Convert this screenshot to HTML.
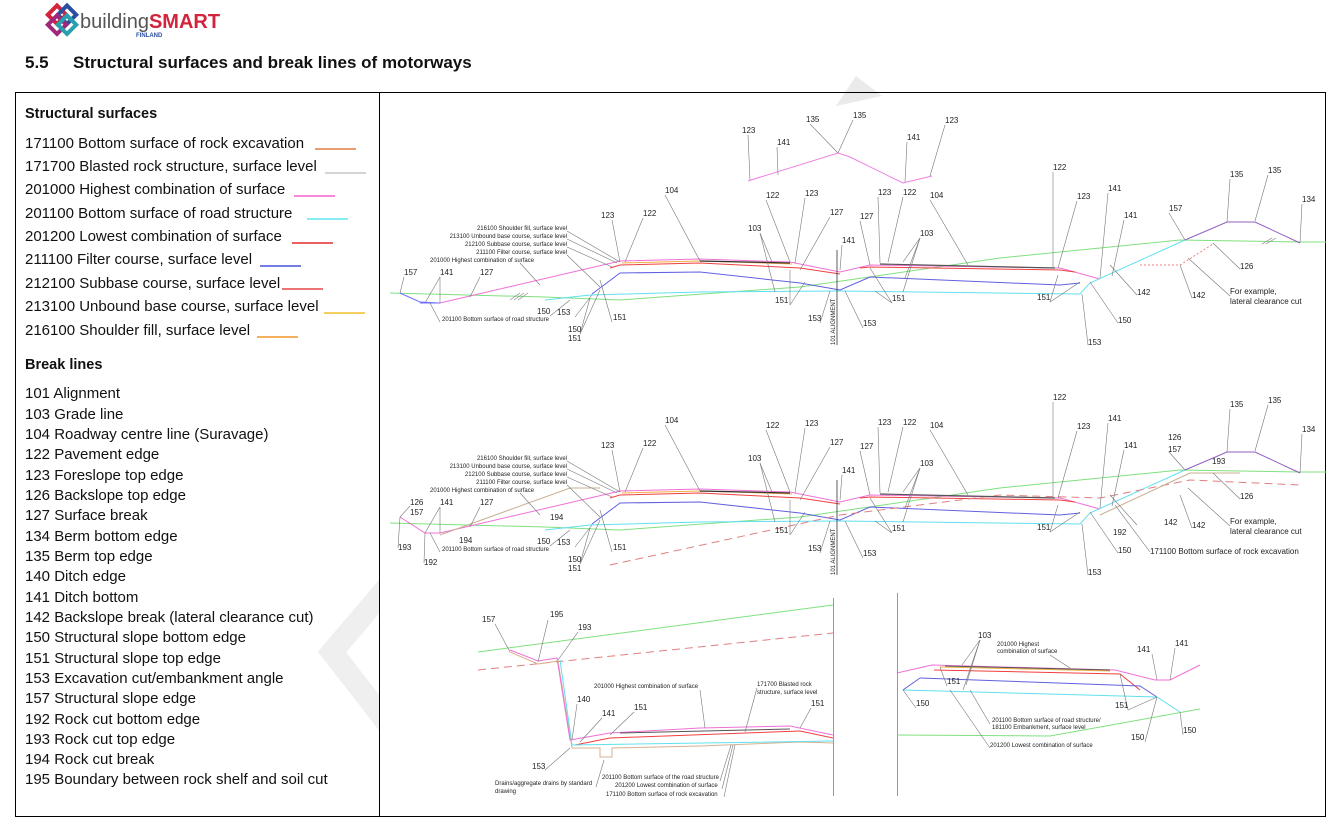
<!DOCTYPE html>
<html><head><meta charset="utf-8"><style>
html,body{margin:0;padding:0;background:#fff}
svg{display:block}
.lg{font-family:"Liberation Sans",sans-serif;font-size:15px;fill:#111}
.hd{font-family:"Liberation Sans",sans-serif;font-size:14.5px;font-weight:bold;fill:#111}
.n{font-family:"Liberation Sans",sans-serif;font-size:8px;fill:#222}
.s{font-family:"Liberation Sans",sans-serif;font-size:6px;fill:#222}
.ld{stroke:#777;stroke-width:.6;fill:none}
.c{fill:none;stroke-width:1}
</style></head><body>
<svg width="1338" height="823" viewBox="0 0 1338 823" xmlns="http://www.w3.org/2000/svg">
<!-- logo -->
<g transform="translate(47,6)">
<rect x="4" y="2" width="13" height="13" transform="rotate(45 10 8)" fill="none" stroke="#d2243c" stroke-width="4"/>
<rect x="14" y="2" width="13" height="13" transform="rotate(45 20 8)" fill="none" stroke="#2b4fa0" stroke-width="4"/>
<rect x="4" y="12" width="13" height="13" transform="rotate(45 10 18)" fill="none" stroke="#a0287a" stroke-width="4"/>
<rect x="14" y="12" width="13" height="13" transform="rotate(45 20 18)" fill="none" stroke="#2a9fb0" stroke-width="4"/>
</g>
<text x="80" y="28" font-family="Liberation Sans,sans-serif" font-size="20" fill="#555">building<tspan fill="#d2243c" font-weight="bold">SMART</tspan></text>
<text x="136" y="37" font-family="Liberation Sans,sans-serif" font-size="6" font-weight="bold" fill="#2b4fa0">FINLAND</text>
<text x="25" y="68" font-family="Liberation Sans,sans-serif" font-size="17" font-weight="bold" fill="#111">5.5<tspan x="73">Structural surfaces and break lines of motorways</tspan></text>

<!-- watermark -->
<polyline points="402,570 332,652 402,742" fill="none" stroke="#efefef" stroke-width="22"/>
<polygon points="440,797 476,797 458,815" fill="#e8e8e8"/>

<!-- frame -->
<rect x="380" y="93" width="946" height="724" fill="#fff"/>
<polygon points="836,106 856,76 882,96" fill="#eaeaea"/>
<rect x="15.5" y="92.5" width="1310" height="724" fill="none" stroke="#000" stroke-width="1"/>
<line x1="379.5" y1="92" x2="379.5" y2="817" stroke="#000"/>

<!-- legend -->
<text class="hd" x="25" y="118">Structural surfaces</text>
<g class="lg">
<text x="25" y="148">171100 Bottom surface of rock excavation</text>
<text x="25" y="171">171700 Blasted rock structure, surface level</text>
<text x="25" y="194">201000 Highest combination of surface</text>
<text x="25" y="218">201100 Bottom surface of road structure</text>
<text x="25" y="241">201200 Lowest combination of surface</text>
<text x="25" y="264">211100 Filter course, surface level</text>
<text x="25" y="288">212100 Subbase course, surface level</text>
<text x="25" y="311">213100 Unbound base course, surface level</text>
<text x="25" y="335">216100 Shoulder fill, surface level</text>
</g>
<g stroke-width="1.2">
<line x1="315" y1="149" x2="356" y2="149" stroke="#d8641e"/>
<line x1="325" y1="173" x2="366" y2="173" stroke="#bbb"/>
<line x1="294" y1="196" x2="335" y2="196" stroke="#f040c8"/>
<line x1="307" y1="219" x2="348" y2="219" stroke="#40e0f0"/>
<line x1="292" y1="243" x2="333" y2="243" stroke="#d00"/>
<line x1="260" y1="266" x2="301" y2="266" stroke="#2030d0"/>
<line x1="282" y1="289" x2="323" y2="289" stroke="#e02020"/>
<line x1="324" y1="313" x2="365" y2="313" stroke="#f0b000"/>
<line x1="257" y1="337" x2="298" y2="337" stroke="#f08000"/>
</g>
<text class="hd" x="25" y="369">Break lines</text>
<g class="lg">
<text x="25" y="398">101 Alignment</text>
<text x="25" y="419">103 Grade line</text>
<text x="25" y="439">104 Roadway centre line (Suravage)</text>
<text x="25" y="459">122 Pavement edge</text>
<text x="25" y="480">123 Foreslope top edge</text>
<text x="25" y="500">126 Backslope top edge</text>
<text x="25" y="520">127 Surface break</text>
<text x="25" y="541">134 Berm bottom edge</text>
<text x="25" y="561">135 Berm top edge</text>
<text x="25" y="581">140 Ditch edge</text>
<text x="25" y="602">141 Ditch bottom</text>
<text x="25" y="622">142 Backslope break (lateral clearance cut)</text>
<text x="25" y="642">150 Structural slope bottom edge</text>
<text x="25" y="663">151 Structural slope top edge</text>
<text x="25" y="683">153 Excavation cut/embankment angle</text>
<text x="25" y="703">157 Structural slope edge</text>
<text x="25" y="724">192 Rock cut bottom edge</text>
<text x="25" y="744">193 Rock cut top edge</text>
<text x="25" y="764">194 Rock cut break</text>
<text x="25" y="784">195 Boundary between rock shelf and soil cut</text>
</g>

<!-- ============ TOP SECTION ============ -->
<g id="top">
<polyline class="c" stroke="#f080e0" points="748,181 838,153 850,157 903,183 932,176"/>
<polyline class="c" stroke="#80e080" points="390,293 545,297 620,300 800,287 1000,258 1180,240 1300,242 1326,242"/>
<polyline class="c" stroke="#f070d8" points="420,303 440,303 620,261 700,259 790,262 840,272 870,265 1060,268 1100,279"/>
<polyline class="c" stroke="#7070ff" points="420,303 440,303 420,302 400,293"/>
<polyline class="c" stroke="#f0b040" points="622,263 700,261 792,264"/>
<polyline class="c" stroke="#f04040" points="610,268 620,265 700,263 800,268 840,274"/>
<polyline class="c" stroke="#f04040" points="860,268 870,267 1060,270 1075,272"/>
<polyline class="c" stroke="#6060e0" points="592,294 620,273 700,272 800,283 840,290 870,277 1060,285 1080,283"/>
<polyline class="c" stroke="#60e0f0" points="545,300 590,295 700,292 840,291 1080,294 1090,283 1185,240"/>
<polyline class="c" stroke="#9060c0" points="1185,240 1227,222 1255,222 1300,243"/>
<polyline class="c" stroke="#f08080" stroke-dasharray="2,2" points="1140,265 1180,265 1213,244"/>
<line x1="700" y1="261" x2="790" y2="263" stroke="#333" stroke-width="1.2"/>
<line x1="880" y1="264" x2="1055" y2="268" stroke="#555" stroke-width="1.2"/>
<g stroke="#888" stroke-width=".7"><line x1="510" y1="300" x2="520" y2="293"/><line x1="514" y1="300" x2="524" y2="293"/><line x1="518" y1="300" x2="528" y2="293"/><line x1="1262" y1="244" x2="1272" y2="238"/><line x1="1266" y1="244" x2="1276" y2="238"/></g>
<line x1="837" y1="250" x2="837" y2="345" stroke="#333" stroke-width=".8"/>
<text class="s" transform="translate(835,345) rotate(-90)">101 ALIGNMENT</text>
<g class="ld">
<polyline points="748,135 750,180"/><polyline points="810,124 838,153"/><polyline points="853,120 838,153"/>
<polyline points="777,147 778,175"/><polyline points="907,142 905,182"/><polyline points="945,125 930,176"/>
<polyline points="665,195 700,261"/><polyline points="612,220 620,262"/><polyline points="643,218 625,262"/>
<polyline points="766,200 790,262"/><polyline points="805,198 795,263"/><polyline points="760,233 772,262"/><polyline points="760,233 775,292"/>
<polyline points="830,217 800,270"/><polyline points="842,245 840,270"/><polyline points="860,221 870,265"/>
<polyline points="878,197 880,263"/><polyline points="903,197 888,262"/><polyline points="930,200 968,265"/>
<polyline points="920,238 903,262"/><polyline points="920,238 905,278"/><polyline points="920,238 903,292"/>
<polyline points="1053,172 1053,267"/><polyline points="1077,201 1058,268"/>
<polyline points="1108,193 1100,278"/><polyline points="1124,220 1112,276"/>
<polyline points="1169,213 1185,240"/><polyline points="1230,179 1227,222"/><polyline points="1268,175 1255,221"/><polyline points="1302,204 1300,243"/>
<polyline points="1240,269 1213,243"/><polyline points="1137,295 1110,265"/><polyline points="1192,298 1180,265"/><polyline points="1230,296 1188,258"/>
<polyline points="1118,323 1090,282"/><polyline points="1088,345 1082,294"/>
<polyline points="1050,302 1058,275"/><polyline points="1050,302 1080,282"/>
<polyline points="892,303 870,268"/><polyline points="892,303 875,291"/><polyline points="863,328 845,291"/>
<polyline points="790,305 790,270"/><polyline points="790,305 805,282"/><polyline points="820,323 830,291"/>
<polyline points="612,322 600,280"/><polyline points="550,316 570,300"/><polyline points="575,317 592,295"/>
<polyline points="580,334 590,298"/><polyline points="580,334 600,290"/>
<polyline points="404,277 400,293"/><polyline points="440,277 425,303"/><polyline points="440,277 440,303"/><polyline points="480,277 470,297"/>
<polyline points="440,322 430,303"/>
<polyline points="567,231 620,262"/><polyline points="567,239 617,263"/><polyline points="567,247 612,267"/><polyline points="567,255 600,287"/><polyline points="520,263 540,285"/>
</g>
<g class="n">
<text x="742" y="133">123</text><text x="806" y="122">135</text><text x="853" y="118">135</text>
<text x="777" y="145">141</text><text x="907" y="140">141</text><text x="945" y="123">123</text>
<text x="665" y="193">104</text><text x="601" y="218">123</text><text x="643" y="216">122</text>
<text x="766" y="198">122</text><text x="805" y="196">123</text><text x="748" y="231">103</text>
<text x="830" y="215">127</text><text x="842" y="243">141</text><text x="860" y="219">127</text>
<text x="878" y="195">123</text><text x="903" y="195">122</text><text x="930" y="198">104</text>
<text x="920" y="236">103</text><text x="1053" y="170">122</text><text x="1077" y="199">123</text>
<text x="1108" y="191">141</text><text x="1124" y="218">141</text><text x="1169" y="211">157</text>
<text x="1230" y="177">135</text><text x="1268" y="173">135</text><text x="1302" y="202">134</text>
<text x="1240" y="269">126</text><text x="1137" y="295">142</text><text x="1192" y="298">142</text>
<text x="1230" y="294">For example,</text><text x="1230" y="304">lateral clearance cut</text>
<text x="1118" y="323">150</text><text x="1088" y="345">153</text><text x="1037" y="300">151</text>
<text x="892" y="301">151</text><text x="863" y="326">153</text><text x="775" y="303">151</text><text x="808" y="321">153</text>
<text x="613" y="320">151</text><text x="537" y="314">150</text><text x="557" y="315">153</text>
<text x="568" y="332">150</text><text x="568" y="341">151</text>
<text x="404" y="275">157</text><text x="440" y="275">141</text><text x="480" y="275">127</text>
</g>
<g class="s">
<text x="567" y="230" text-anchor="end">216100 Shoulder fill, surface level</text>
<text x="567" y="238" text-anchor="end">213100 Unbound base course, surface level</text>
<text x="567" y="246" text-anchor="end">212100 Subbase course, surface level</text>
<text x="567" y="254" text-anchor="end">211100 Filter course, surface level</text>
<text x="430" y="262">201000 Highest combination of surface</text>
<text x="442" y="321">201100 Bottom surface of road structure</text>
</g>
</g>

<!-- ============ MIDDLE SECTION ============ -->
<g transform="translate(0,230)">
<polyline class="c" stroke="#80e080" points="390,293 545,297 620,300 800,287 1000,258 1180,240 1300,242 1326,242"/>
<polyline class="c" stroke="#f070d8" points="400,287 425,303 440,303 620,261 700,259 790,262 840,272 870,265 1060,268 1100,279"/>
<polyline class="c" stroke="#c8b090" points="440,305 570,258 600,258"/>
<polyline class="c" stroke="#f0b040" points="622,263 700,261 792,264"/>
<polyline class="c" stroke="#f04040" points="610,268 620,265 700,263 800,268 840,274"/>
<polyline class="c" stroke="#f04040" points="860,268 870,267 1060,270 1075,272"/>
<polyline class="c" stroke="#6060e0" points="592,294 620,273 700,272 800,283 840,290 870,277 1060,285 1080,283"/>
<polyline class="c" stroke="#60e0f0" points="545,300 590,295 700,292 840,291 1080,294 1090,283 1185,240"/>
<polyline class="c" stroke="#9060c0" points="1185,240 1227,222 1255,222 1300,243"/>
<polyline class="c" stroke="#e08080" stroke-dasharray="8,5" points="610,335 840,285 1000,265 1100,268 1190,250 1300,255"/>
<polyline class="c" stroke="#c8b090" points="1100,285 1190,243 1240,243"/>
<line x1="700" y1="261" x2="790" y2="263" stroke="#333" stroke-width="1.2"/>
<line x1="880" y1="264" x2="1055" y2="268" stroke="#555" stroke-width="1.2"/>
<line x1="837" y1="250" x2="837" y2="345" stroke="#333" stroke-width=".8"/>
<g class="ld">
<polyline points="665,195 700,261"/><polyline points="612,220 620,262"/><polyline points="643,218 625,262"/>
<polyline points="766,200 790,262"/><polyline points="805,198 795,263"/><polyline points="760,233 772,262"/><polyline points="760,233 775,292"/>
<polyline points="830,217 800,270"/><polyline points="842,245 840,270"/><polyline points="860,221 870,265"/>
<polyline points="878,197 880,263"/><polyline points="903,197 888,262"/><polyline points="930,200 968,265"/>
<polyline points="920,238 903,262"/><polyline points="920,238 905,278"/><polyline points="920,238 903,292"/>
<polyline points="1053,172 1053,267"/><polyline points="1077,201 1058,268"/>
<polyline points="1108,193 1100,278"/><polyline points="1124,220 1112,276"/>
<polyline points="1169,222 1185,240"/><polyline points="1230,179 1227,222"/><polyline points="1268,175 1255,221"/><polyline points="1302,204 1300,243"/>
<polyline points="1240,269 1213,243"/><polyline points="1137,295 1110,265"/><polyline points="1192,298 1180,265"/><polyline points="1230,296 1188,258"/>
<polyline points="1118,323 1090,282"/><polyline points="1088,345 1082,294"/><polyline points="1150,322 1115,275"/>
<polyline points="1050,302 1058,275"/><polyline points="1050,302 1080,282"/>
<polyline points="892,303 870,268"/><polyline points="892,303 875,291"/><polyline points="863,328 845,291"/>
<polyline points="790,305 790,270"/><polyline points="790,305 805,282"/><polyline points="820,323 830,291"/>
<polyline points="612,322 600,280"/><polyline points="550,316 570,300"/><polyline points="575,317 592,295"/>
<polyline points="580,334 590,298"/><polyline points="580,334 600,290"/>
<polyline points="410,276 400,287"/><polyline points="440,277 425,303"/><polyline points="440,277 440,303"/><polyline points="480,277 470,297"/>
<polyline points="398,318 400,287"/><polyline points="424,333 425,303"/>
<polyline points="440,322 430,303"/>
<polyline points="567,231 620,262"/><polyline points="567,239 617,263"/><polyline points="567,247 612,267"/><polyline points="567,255 600,287"/><polyline points="520,263 540,285"/>
</g>
<g class="n">
<text x="665" y="193">104</text><text x="601" y="218">123</text><text x="643" y="216">122</text>
<text x="766" y="198">122</text><text x="805" y="196">123</text><text x="748" y="231">103</text>
<text x="830" y="215">127</text><text x="842" y="243">141</text><text x="860" y="219">127</text>
<text x="878" y="195">123</text><text x="903" y="195">122</text><text x="930" y="198">104</text>
<text x="920" y="236">103</text><text x="1053" y="170">122</text><text x="1077" y="199">123</text>
<text x="1108" y="191">141</text><text x="1124" y="218">141</text>
<text x="1168" y="210">126</text><text x="1168" y="222">157</text><text x="1212" y="234">193</text>
<text x="1230" y="177">135</text><text x="1268" y="173">135</text><text x="1302" y="202">134</text>
<text x="1240" y="269">126</text><text x="1164" y="295">142</text><text x="1192" y="298">142</text>
<text x="1230" y="294">For example,</text><text x="1230" y="304">lateral clearance cut</text>
<text x="1118" y="323">150</text><text x="1088" y="345">153</text><text x="1037" y="300">151</text><text x="1113" y="305">192</text>
<text x="1150" y="324">171100 Bottom surface of rock excavation</text>
<text x="892" y="301">151</text><text x="863" y="326">153</text><text x="775" y="303">151</text><text x="808" y="321">153</text>
<text x="613" y="320">151</text><text x="537" y="314">150</text><text x="557" y="315">153</text>
<text x="568" y="332">150</text><text x="568" y="341">151</text><text x="550" y="290">194</text>
<text x="410" y="275">126</text><text x="410" y="285">157</text><text x="398" y="320">193</text><text x="424" y="335">192</text><text x="459" y="313">194</text>
<text x="440" y="275">141</text><text x="480" y="275">127</text>
</g>
<g class="s">
<text x="567" y="230" text-anchor="end">216100 Shoulder fill, surface level</text>
<text x="567" y="238" text-anchor="end">213100 Unbound base course, surface level</text>
<text x="567" y="246" text-anchor="end">212100 Subbase course, surface level</text>
<text x="567" y="254" text-anchor="end">211100 Filter course, surface level</text>
<text x="430" y="262">201000 Highest combination of surface</text>
<text x="442" y="321">201100 Bottom surface of road structure</text>
</g>
<text class="s" transform="translate(835,345) rotate(-90)">101 ALIGNMENT</text>
</g>

<!-- ============ BOTTOM LEFT ============ -->
<line x1="833.5" y1="598" x2="833.5" y2="796" stroke="#999"/>
<polyline class="c" stroke="#80e080" points="478,652 833,605"/>
<polyline class="c" stroke="#e08080" stroke-dasharray="8,5" points="478,670 833,633"/>
<polyline class="c" stroke="#d8b090" stroke-width="2" points="510,652 538,664 558,661 572,748 600,748 600,757 612,757 612,748 700,746 800,742 833,743"/>
<polyline class="c" stroke="#f070d8" points="510,650 538,661 557,658 570,740 610,733 700,728 790,726 833,735"/>
<polyline class="c" stroke="#f04040" points="575,745 610,738 800,731 833,738"/>
<polyline class="c" stroke="#60e0f0" points="560,660 572,745 833,741"/>
<line x1="620" y1="733" x2="790" y2="729" stroke="#555" stroke-width="1"/>
<g class="ld">
<polyline points="495,624 510,652"/><polyline points="548,620 538,662"/><polyline points="578,632 558,660"/>
<polyline points="577,704 572,740"/><polyline points="602,718 580,742"/><polyline points="634,712 610,735"/>
<polyline points="811,708 800,728"/><polyline points="545,770 570,748"/><polyline points="596,787 604,760"/>
<polyline points="700,690 705,728"/><polyline points="757,688 745,732"/>
<polyline points="720,781 731,745"/><polyline points="722,789 733,745"/><polyline points="724,797 735,745"/>
</g>
<g class="n">
<text x="482" y="622">157</text><text x="550" y="617">195</text><text x="578" y="630">193</text>
<text x="577" y="702">140</text><text x="602" y="716">141</text><text x="634" y="710">151</text>
<text x="811" y="706">151</text><text x="532" y="769">153</text>
</g>
<g class="s">
<text x="594" y="688">201000 Highest combination of surface</text>
<text x="757" y="686">171700 Blasted rock</text><text x="757" y="694">structure, surface level</text>
<text x="495" y="785">Drains/aggregate drains by standard</text><text x="495" y="793">drawing</text>
<text x="602" y="779">201100 Bottom surface of the road structure</text>
<text x="615" y="787">201200 Lowest combination of surface</text>
<text x="606" y="796">171100 Bottom surface of rock excavation</text>
</g>

<!-- ============ BOTTOM RIGHT ============ -->
<line x1="897.5" y1="593" x2="897.5" y2="796" stroke="#999"/>
<polyline class="c" stroke="#80e080" points="897,735 1050,736 1200,709"/>
<polyline class="c" stroke="#f070d8" points="897,673 932,665 1115,670 1155,680 1170,680 1200,665"/>
<polyline class="c" stroke="#f0b040" points="940,667 1110,671"/>
<polyline class="c" stroke="#f04040" points="934,670 1120,674 1140,690"/>
<polyline class="c" stroke="#6060e0" points="920,678 1140,686 1157,697"/>
<polyline class="c" stroke="#60e0f0" points="903,690 1157,697 1180,712"/>
<polyline class="c" stroke="#6060e0" points="903,690 920,678"/>
<line x1="945" y1="666" x2="1110" y2="670" stroke="#555" stroke-width="1"/>
<g class="ld">
<polyline points="980,640 962,665"/><polyline points="980,640 966,685"/><polyline points="980,640 963,690"/>
<polyline points="1050,655 1070,668"/><polyline points="1152,654 1157,680"/><polyline points="1175,648 1170,680"/>
<polyline points="947,686 940,667"/><polyline points="916,708 903,690"/><polyline points="1128,710 1120,674"/><polyline points="1128,710 1157,697"/>
<polyline points="990,724 970,690"/><polyline points="990,748 950,690"/>
<polyline points="1183,735 1180,712"/><polyline points="1145,742 1157,697"/>
</g>
<g class="n">
<text x="978" y="638">103</text><text x="1137" y="652">141</text><text x="1175" y="646">141</text>
<text x="947" y="684">151</text><text x="916" y="706">150</text><text x="1115" y="708">151</text>
<text x="1183" y="733">150</text><text x="1131" y="740">150</text>
</g>
<g class="s">
<text x="997" y="646">201000 Highest</text><text x="997" y="653">combination of surface</text>
<text x="992" y="722">201100 Bottom surface of road structure/</text>
<text x="992" y="729">181100 Embankment, surface level</text>
<text x="990" y="747">201200 Lowest combination of surface</text>
</g>
</svg>
</body></html>
